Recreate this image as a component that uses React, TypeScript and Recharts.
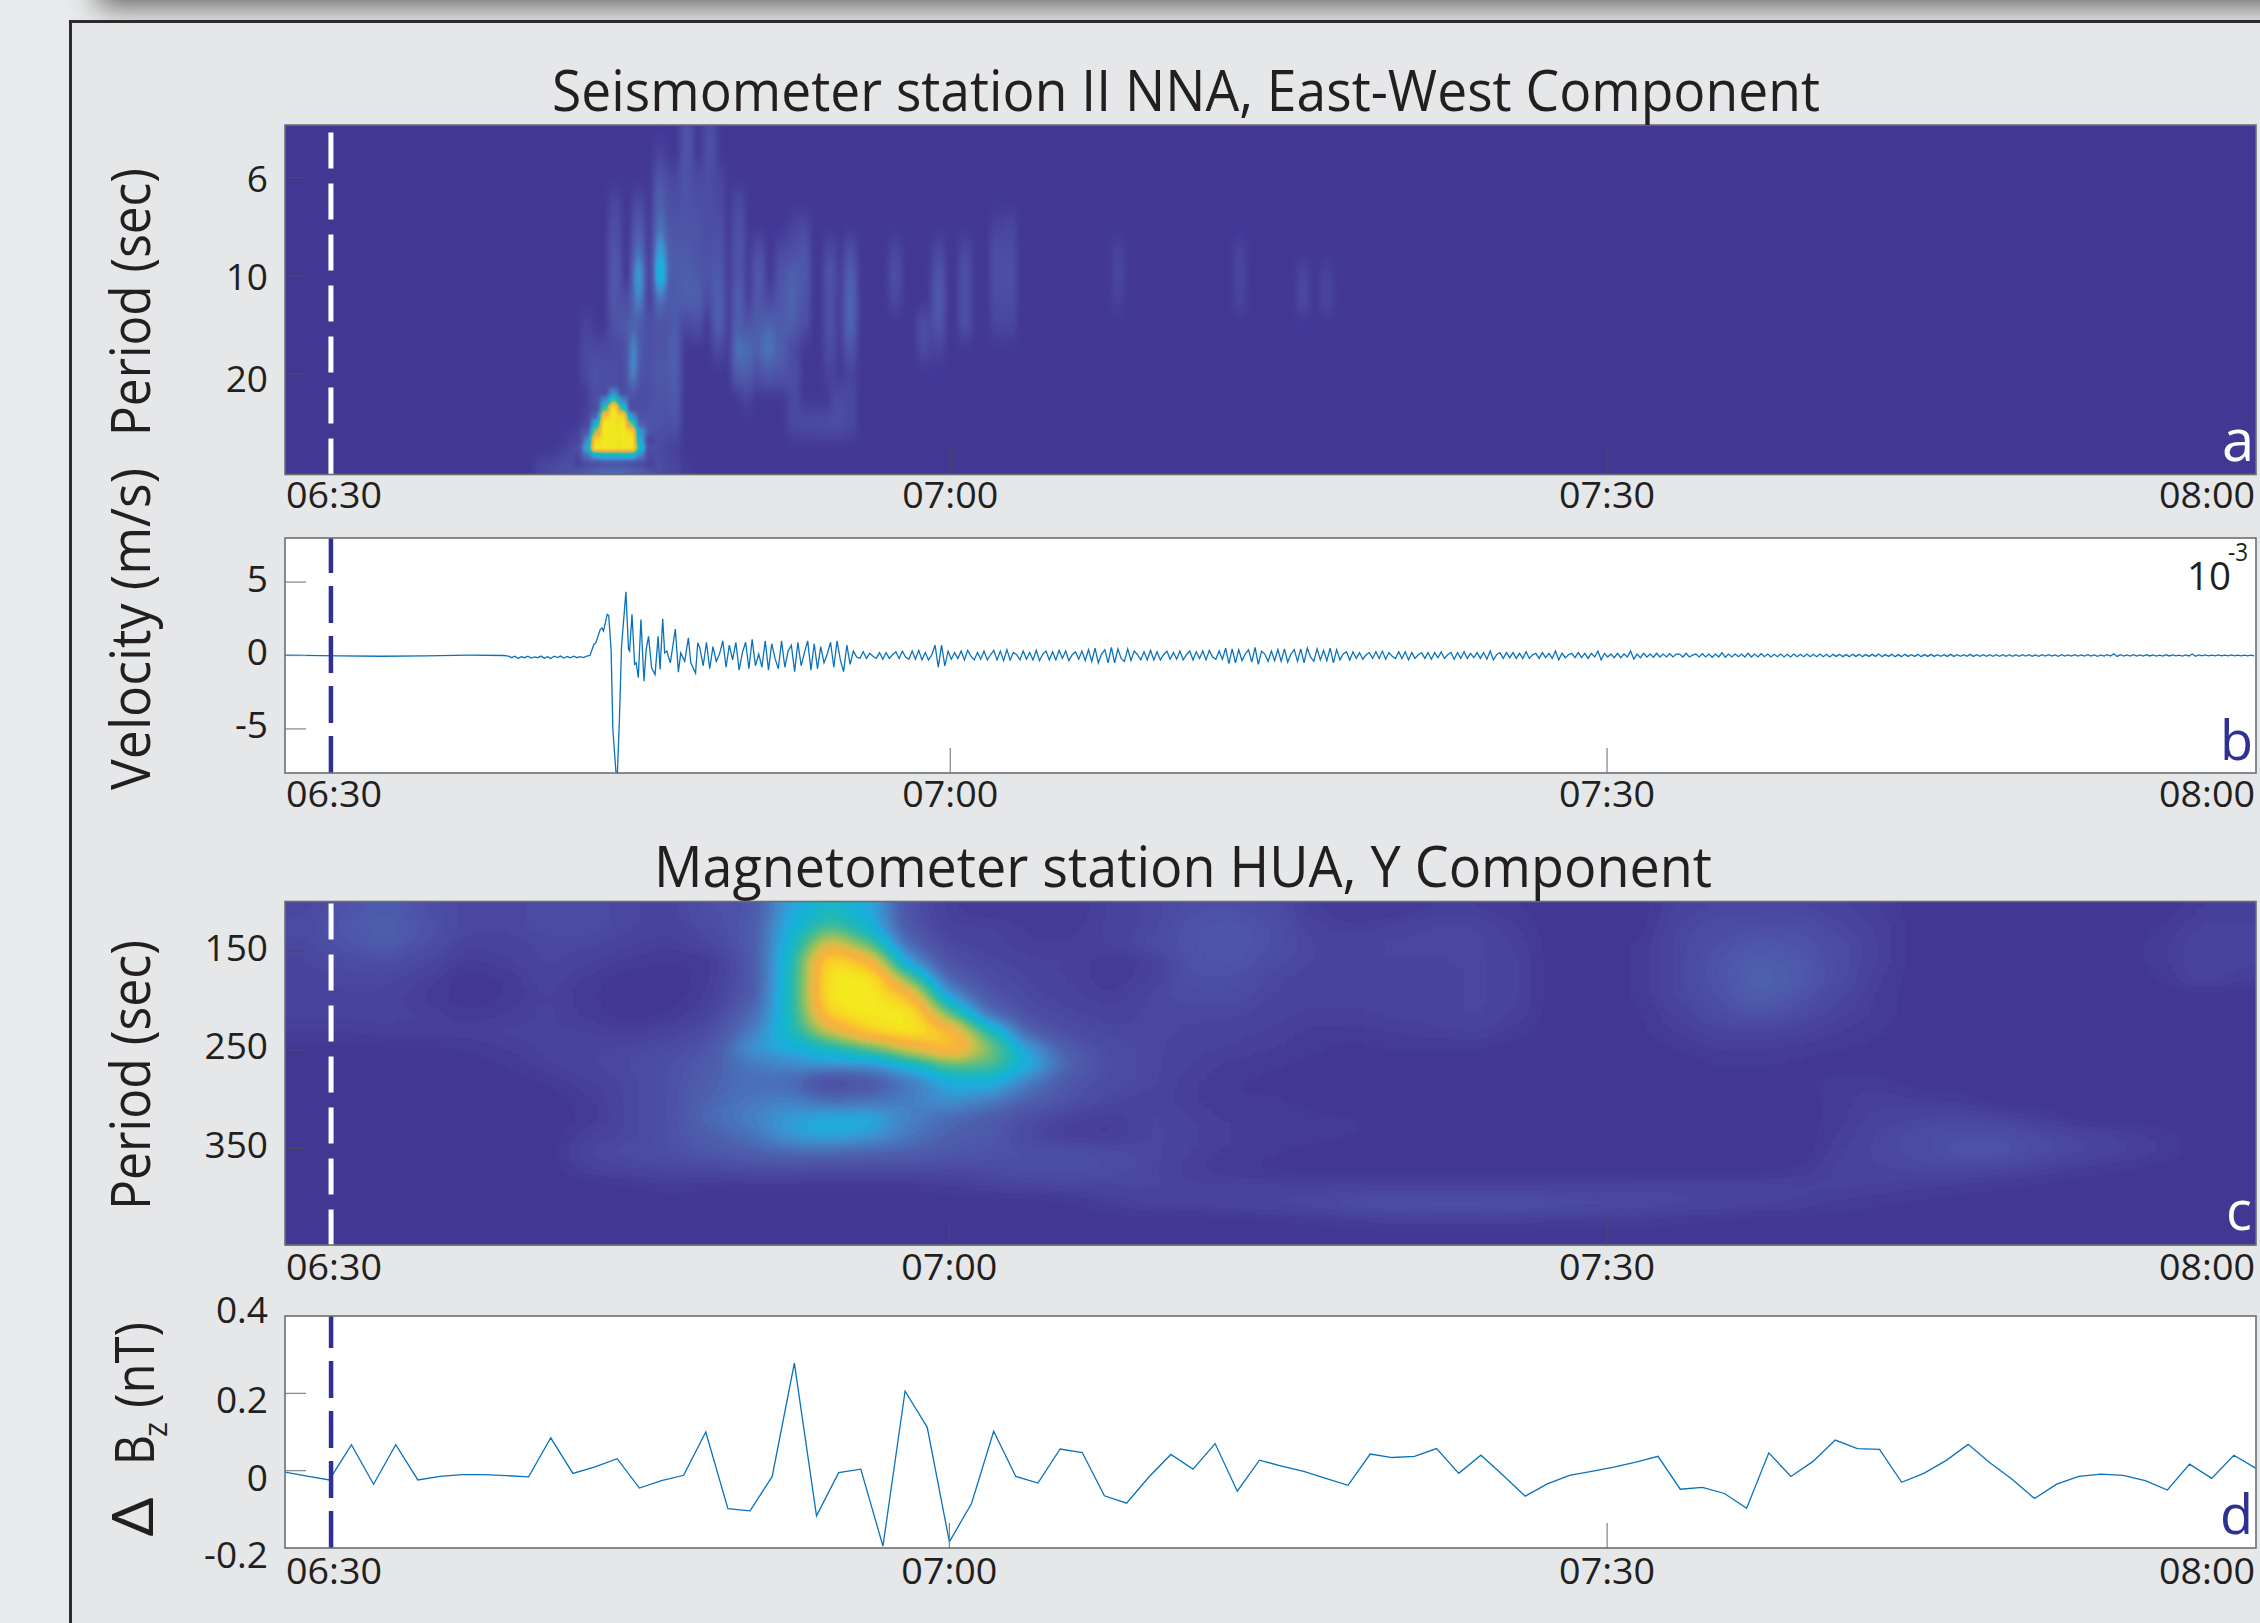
import React from 'react';
import { ComposedChart, ScatterChart, Scatter, Line, XAxis, YAxis, ReferenceLine } from 'recharts';

const timeLabels = ['06:30', '07:00', '07:30', '08:00'];
const seisTicks = [0, 30.1, 60.27, 90.08];
const magTicks = [0, 30, 59.7, 89];
const seisDomain = [-0.46, 90.08];
const magDomain = [0, 89];
const seisOnset = 1.65;
const magOnset = 2.08;

const periodTicksA = [0, 1, 2];
const periodLabelsA = ['6', '10', '20'];
const periodTicksC = [150, 250, 350];
const velocityTicks = [-5, 0, 5];
const bzTicks = [-0.2, 0, 0.2, 0.4];

// Panel a: spectrogram power per streak (minutes after 06:30), rows run along the period axis
const aRowStart = -0.5;
const aRowStep = 0.25;
const aColumnMinutes = [11.3, 11.7, 12.2, 12.6, 12.99, 13.4, 13.86, 14.28, 14.69, 15.1, 15.52, 15.78, 15.93, 16.34, 16.77, 17.41, 18.0, 18.46, 19.07, 19.45, 20.37, 20.75, 21.29, 21.75, 22.36, 22.9, 23.36, 23.97, 24.58, 24.97, 25.5, 27.57, 28.87, 29.56, 30.78, 32.24, 32.85, 37.8, 43.4, 46.3, 47.4];
const aColumnPower = [
  [0,0,0,0,0,0,0,0,0,0,0,0,0,0,5],
  [0,0,0,0,0,0,0,0,0,0,0,0,0,0,7],
  [0,0,0,0,0,0,0,0,0,0,0,0,0,1,9],
  [0,0,0,0,0,0,0,0,0,0,0,0,0,3,10],
  [0,0,0,0,0,0,0,0,0,0,0,0,0,6,12],
  [0,0,0,0,0,0,0,0,4,6,6,0,5,10,12],
  [0,0,0,0,0,0,0,0,0,6,10,8,6,12,16],
  [0,0,0,0,0,0,0,0,0,6,8,6,6,12,18],
  [0,0,0,5,8,10,12,12,8,6,8,8,6,12,18],
  [0,0,0,0,0,0,0,8,12,6,6,6,8,12,18],
  [0,0,0,0,0,0,0,0,12,14,16,8,8,12,16],
  [0,0,0,6,12,18,28,22,18,38,38,8,8,12,16],
  [0,0,0,0,0,0,0,0,12,12,10,6,10,12,14],
  [0,0,0,0,0,0,0,0,8,8,8,8,10,10,10],
  [0,4,10,14,18,28,36,18,10,10,12,10,10,6,8],
  [0,0,5,8,10,12,12,12,12,14,14,12,10,3,6],
  [10,10,10,10,10,12,14,14,5,0,0,0,0,0,2],
  [0,0,6,8,10,10,12,14,8,0,0,0,0,0,0],
  [8,8,8,8,8,8,10,6,0,0,0,0,0,0,0],
  [0,0,5,6,8,10,12,14,14,6,0,0,0,0,0],
  [0,0,0,6,8,10,10,14,14,20,12,0,0,0,0],
  [0,0,0,0,0,0,0,0,10,18,14,4,0,0,0],
  [0,0,0,0,0,8,12,12,12,14,8,0,0,0,0],
  [0,0,0,0,0,0,0,6,16,20,12,0,0,0,0],
  [0,0,0,0,0,6,10,12,12,14,10,0,0,0,0],
  [0,0,0,0,4,8,14,16,14,6,8,6,6,0,0],
  [0,0,0,0,6,10,12,10,8,0,0,0,7,0,0],
  [0,0,0,0,0,0,0,0,0,0,0,0,8,0,0],
  [0,0,0,0,0,6,10,8,8,7,4,0,8,0,0],
  [0,0,0,0,0,0,0,0,0,0,0,7,8,0,0],
  [0,0,0,0,0,8,14,16,16,10,4,6,6,0,0],
  [0,0,0,0,0,5,8,5,0,0,0,0,0,0,0],
  [0,0,0,0,0,0,0,0,8,6,0,0,0,0,0],
  [0,0,0,0,0,6,10,12,10,4,0,0,0,0,0],
  [0,0,0,0,0,6,8,8,8,0,0,0,0,0,0],
  [0,0,0,0,4,8,8,7,5,0,0,0,0,0,0],
  [0,0,0,0,5,7,8,7,5,0,0,0,0,0,0],
  [0,0,0,0,0,4,5,3,0,0,0,0,0,0,0],
  [0,0,0,0,0,4,5,4,0,0,0,0,0,0,0],
  [0,0,0,0,0,0,5,6,0,0,0,0,0,0,0],
  [0,0,0,0,0,0,4,5,0,0,0,0,0,0,0],
];
const aStreakGain = 1.4;

// Panel a: the strong peak, on a finer grid
const aPeakMinutes = [12.99, 13.4, 13.82, 14.23, 14.64, 15.06, 15.47, 15.88, 16.3];
const aPeakRowStart = 2.183;
const aPeakRowStep = 0.0814;
const aPeakPower = [
  [0,0,0,0,30,0,0,0,0],
  [0,0,0,30,60,30,0,0,0],
  [0,0,0,55,100,55,10,0,0],
  [0,0,20,90,100,95,35,0,0],
  [0,0,45,100,100,100,65,20,0],
  [0,15,70,100,100,100,95,35,0],
  [5,30,95,100,100,100,100,40,5],
  [10,40,100,100,100,100,100,50,10],
  [8,25,40,45,45,45,45,30,8],
  [5,10,12,14,14,14,12,10,5],
];

// Panel b: velocity
const velocityQuietMinutes = [-0.46, 2, 4, 6, 8, 9.6];
const velocityQuiet = [0.02, -0.02, -0.05, -0.02, 0.02, 0];
const velocityNoiseStart = 9.8;
const velocityNoiseStep = 0.15;
const velocityNoise = [-0.05,-0.15,-0.05,-0.2,-0.08,-0.15,-0.05,-0.18,-0.1,-0.15,-0.04,-0.18,-0.08,-0.2,-0.05,-0.14,-0.04,-0.17,-0.07,-0.16,-0.05,-0.15,-0.08,-0.14,-0.05];
const velocityOnsetMinutes = [13.55,13.73,13.82,14.02,14.1,14.17,14.34,14.41,14.52,14.6,14.74,14.81,14.9,15.0,15.2,15.32,15.37,15.48,15.6,15.67,15.77,15.89,16.03,16.13,16.24,16.38,16.54,16.68,16.77,16.89,16.98,17.08,17.24,17.47,17.61,17.72,17.9,18.07,18.18,18.4,18.5];
const velocityOnset = [0,0.75,0.87,1.77,1.88,1.66,2.8,2.72,0.4,-5,-7.9,-8,-4.4,0.63,4.33,0.4,0.3,2.8,-0.6,-0.5,-1.5,2.45,-1.75,0.4,1.3,-0.84,-1.3,1.3,-0.95,2.5,0.18,0.3,-0.5,1.8,-1.13,0.18,-0.4,1.2,-0.5,-1.2,0.86];
const velocityCodaStart = 18.6;
const velocityCodaStep = 0.15;
const velocityCoda = [
  .5,-.7,.9,-.9,.6,-.4,.1,1,-.8,.7,-.3,.9,-1,.2,.9,-.9,1.1,-.7,.1,-.8,
  1,-1,.8,-.2,-.9,1,-.8,.3,.7,-1.1,.9,-.7,.2,1,-1,.8,-.9,.6,-.5,.1,
  .9,-.8,1,-.3,-1.1,.7,-.6,.3,-.1,-.2,.25,-.2,.15,-.05,-.2,.2,-.25,.2,-.2,.05,
  .25,-.2,.3,-.1,-.25,.3,-.25,.35,-.3,.2,-.3,.05,.7,-.8,.7,-.7,.3,-.25,.2,-.2,
  .3,-.3,.35,-.05,-.3,.2,-.25,.3,-.3,.05,.35,-.3,.3,-.35,.4,-.3,.2,.05,-.3,.3,
  -.25,.2,-.3,.35,-.35,.1,.3,-.3,.25,-.3,.35,-.2,.3,-.35,.05,.25,-.25,.3,-.35,.4,
  -.4,.5,-.5,.1,.4,-.5,.55,-.5,.45,-.2,-.4,.45,-.35,.3,.05,-.3,.25,-.3,.35,-.3,
  .25,-.3,.05,.3,-.25,.2,-.25,.3,-.3,.05,.3,-.3,.25,-.2,.3,-.3,.35,-.1,-.25,.3,
  -.25,.5,-.55,.45,-.5,.4,-.35,.1,.4,-.45,.55,-.6,.3,.1,-.4,.3,-.35,.4,-.4,.45,
  -.45,.1,.4,-.4,.45,-.5,.5,-.1,-.4,.45,-.3,.35,-.35,.5,-.5,.4,-.3,.1,.25,-.3,
  .25,-.2,.2,-.25,.05,.2,-.2,.25,-.2,.3,-.25,.2,-.05,-.2,.25,-.2,.25,-.3,.2,-.2,
  .05,.2,-.2,.2,-.25,.2,-.15,.25,-.2,.05,.2,-.25,.2,-.2,.25,-.2,.15,-.15,.2,-.2,
  .2,-.25,.3,-.3,.05,.2,-.2,.2,-.15,.2,-.2,.15,-.2,.25,-.2,.05,.15,-.2,.2,-.15,
  .15,-.2,.3,-.3,.15,-.15,.05,.15,-.15,.2,-.15,.15,-.2,.15,-.1,.3,-.3,.15,-.1,.1,
  -.15,.15,-.15,.1,-.1,.3,-.25,.1,-.15,.15,-.1,.1,-.12,.15,-.1,.1,-.1,.12,-.1,.1,
  .1,-.1,.15,-.1,.02,.1,-.1,.12,-.1,.1,-.12,.1,-.1,.2,-.12,.1,-.1,.1,-.08,.1,
  -.1,.15,-.1,.1,-.1,.12,-.08,.1,-.1,.08,-.08,.1,-.1,.08,-.1,.1,-.08,.08,-.08,.1,
  -.08,.08,-.08,.1,-.08,.08,-.1,.08,-.06,.08,-.08,.06,-.08,.08,-.06,.08,-.08,.06,-.06,.08,
  -.06,.1,-.08,.06,-.06,.08,-.08,.06,-.08,.08,-.06,.06,-.06,.08,-.08,.06,-.06,.08,-.06,.06,
  -.06,.06,-.06,.08,-.06,.05,-.06,.06,-.05,.08,-.06,.05,-.05,.06,-.06,.05,-.05,.06,-.05,.05,
  -.06,.05,-.05,.06,-.05,.06,-.04,.05,-.05,.04,-.05,.06,-.04,.05,-.04,.04,-.05,.05,-.04,.04,
  -.04,.05,-.04,.04,-.04,.05,-.04,.04,-.05,.04,-.04,.05,-.04,.12,-.06,.05,-.04,.04,-.04,.05,
  -.04,.04,-.04,.05,-.03,.04,-.04,.03,-.04,.05,-.03,.04,-.03,.03,-.04,.04,-.03,.1,-.05,.04,
  -.03,.04,-.03,.03,-.03,.04,-.03,.03,-.03,.04,-.03,.03,-.03,.03,-.03,.03,-.03,
];

// Panel c: spectrogram power on a regular time/period grid (percent of colour range)
const cColumnStart = 0.93;
const cColumnStep = 1.822;
const cPeriodStart = 108.1;
const cPeriodStep = 17.56;
const cPower = [
  [8,14,18,12,8,8,10,10,8,6,12,14,40,50,42,12,4,2,2,2,6,8,12,12,10,4,2,2,4,4,2,0,0,0,6,8,8,8,6,4,0,0,0,0,0,0,0,4,4],
  [10,16,20,14,8,8,10,10,8,6,10,16,44,60,46,14,5,6,3,3,6,8,14,16,12,6,4,6,8,8,4,0,0,0,8,10,12,12,8,5,0,0,0,0,0,0,2,6,6],
  [8,14,18,12,6,6,8,8,6,4,8,16,46,80,62,22,8,6,4,4,6,10,14,16,12,7,7,8,8,8,5,0,0,2,8,12,16,14,10,5,0,0,0,0,0,0,3,7,7],
  [7,10,12,8,3,5,8,6,3,2,2,14,50,98,86,36,12,8,6,5,2,4,14,15,10,7,7,7,7,8,6,0,0,2,8,14,20,16,10,5,0,0,0,0,0,0,3,7,6],
  [6,8,8,5,0,2,7,3,0,0,3,14,50,100,100,64,20,10,7,5,2,6,12,12,8,6,6,6,6,8,6,0,0,2,8,14,22,18,10,4,0,0,0,0,0,0,2,7,4],
  [6,7,7,3,0,2,6,2,0,0,4,16,50,100,100,88,36,14,8,6,4,8,10,10,7,6,6,6,6,8,6,0,0,2,8,12,20,14,8,3],
  [6,6,6,5,2,4,6,3,0,2,6,22,50,94,100,100,62,24,10,8,6,8,8,8,6,5,5,6,6,8,5,0,0,1,6,10,14,10,6,3],
  [4,4,5,5,5,6,6,5,4,6,10,28,50,76,94,100,88,52,18,10,8,8,7,6,5,3,3,4,5,6,3,0,0,1,4,7,8,6,4,2],
  [1,1,1,1,2,4,6,7,8,10,14,36,42,50,62,78,92,66,36,16,10,8,6,5,4,2,1,2,2,2,0,0,0,0,2,4,4,3,2,1],
  [0,0,0,0,0,2,5,7,9,12,18,28,32,36,34,46,62,60,42,20,10,8,5,3,2,1,0,0,0,0,0,0,0,0,0,2,2,1,0,0],
  [0,0,0,0,0,0,2,5,8,12,20,26,24,6,14,28,42,44,28,14,10,8,4,2,1,0,0,0,0,0,0,0,0,0,0,0,0,1,3,3],
  [0,0,0,0,0,0,0,3,8,12,22,28,30,24,26,30,36,30,20,13,8,6,4,2,2,1,0,0,0,0,0,0,0,0,0,0,0,0,3,5,4,3],
  [0,0,0,0,0,0,0,2,8,12,24,30,38,42,42,30,24,18,10,6,4,8,5,3,3,2,2,0,0,0,0,0,0,0,0,0,0,0,3,6,7,8,6,4],
  [0,0,0,0,0,0,0,5,8,12,20,26,38,42,38,28,20,16,8,3,3,8,6,4,4,3,2,0,0,0,0,0,0,0,0,0,0,0,4,8,10,12,12,9,7,5,3],
  [0,0,0,0,0,0,0,8,10,12,16,20,24,24,22,20,16,14,12,12,10,8,5,3,2,0,0,0,0,0,0,0,0,0,0,0,0,0,5,8,10,14,14,10,8,6,4],
  [0,0,0,0,0,0,0,5,7,8,8,10,10,9,9,9,9,10,12,12,10,8,4,2,1,0,0,0,0,0,0,0,0,0,0,0,0,2,6,7,8,8,7,5,3,2],
  [0,0,0,0,0,0,0,0,1,3,2,2,2,2,2,2,3,5,6,7,7,8,6,6,6,6,6,6,6,6,6,6,6,7,7,7,7,6,6,5,4,3,2,1],
  [0,0,0,0,0,0,0,0,0,0,0,0,0,0,0,0,0,0,0,1,4,6,6,7,8,9,11,12,13,13,12,11,10,9,8,7,6,5,3,2,1],
  [0,0,0,0,0,0,0,0,0,0,0,0,0,0,0,0,0,0,0,0,0,0,0,0,1,2,3,4,4,4,4,3,3,3,2,1],
  [],
];

// Panel d: field change, one sample per step
const bzStep = 1;
const bzValues = [-0.004,-0.014,-0.024,0.067,-0.035,0.067,-0.024,-0.015,-0.01,-0.01,-0.013,-0.016,0.085,-0.007,0.01,0.031,-0.045,-0.026,-0.012,0.1,-0.098,-0.104,-0.015,0.278,-0.117,-0.005,0.004,-0.195,0.206,0.112,-0.184,-0.085,0.102,-0.015,-0.032,0.056,0.047,-0.065,-0.084,-0.017,0.042,0.004,0.07,-0.053,0.027,0.012,-0.002,-0.02,-0.038,0.043,0.034,0.037,0.057,-0.007,0.04,-0.012,-0.066,-0.034,-0.012,-0.002,0.009,0.022,0.037,-0.048,-0.043,-0.059,-0.097,0.046,-0.015,0.024,0.079,0.057,0.055,-0.03,-0.007,0.026,0.068,0.02,-0.023,-0.072,-0.035,-0.015,-0.009,-0.012,-0.026,-0.05,0.017,-0.02,0.04,0.006];

const colourStops = ['#423895','#48439c','#4c4da3','#4e57a9','#4d61af','#4a70b8','#4681c4','#3b93d0','#25a7db','#15b2d6','#1bb7c2','#2fbaa8','#4fbd8d','#78bf70','#a6c158','#cdbf4a','#eeb644','#f8b23c','#fac52f','#f7d924','#f4e81f'];

const channel = (offset: number) => colourStops.map((c) => parseInt(c.slice(offset, offset + 2), 16) / 255);
const smoothTable = (offset: number) => channel(offset).map((v) => v.toFixed(3)).join(' ');
const LEVELS = 56;
const bandTable = (offset: number) => {
  const vals = channel(offset);
  const out: string[] = [];
  for (let i = 0; i < LEVELS; i++) {
    const f = (i / (LEVELS - 1)) * (vals.length - 1);
    const k = Math.min(Math.floor(f), vals.length - 2);
    out.push((vals[k] + (vals[k + 1] - vals[k]) * (f - k)).toFixed(3));
  }
  return out.join(' ');
};

const aData = aColumnPower.flatMap((col, ci) =>
  col.map((v, k) => ({ t: aColumnMinutes[ci], p: aRowStart + aRowStep * k, v })).filter((d) => d.v > 0),
);
const aPeakData = aPeakPower.flatMap((row, j) =>
  row.map((v, i) => ({ t: aPeakMinutes[i], p: aPeakRowStart + aPeakRowStep * j, v })).filter((d) => d.v > 0),
);
const cData = cPower.flatMap((row, j) =>
  row.map((v, i) => ({ t: cColumnStart + cColumnStep * i, p: cPeriodStart + cPeriodStep * j, v, i, j })).filter((d) => d.v > 0),
);
const velocityData = [
  ...velocityQuietMinutes.map((t, i) => ({ t, v: velocityQuiet[i] })),
  ...velocityNoise.map((v, i) => ({ t: velocityNoiseStart + velocityNoiseStep * i, v })),
  ...velocityOnsetMinutes.map((t, i) => ({ t, v: velocityOnset[i] })),
  ...velocityCoda.map((v, i) => ({ t: velocityCodaStart + velocityCodaStep * i, v })),
];
const bzData = bzValues.map((v, i) => ({ t: i * bzStep, v }));

const FONT = '"Open Sans", sans-serif';
const INK = '#231f20';
const TICK = '#808285';
const TICK_DARK = '#4a4a62';
const BLUE = '#2e3192';
const TRACE = '#0a72bb';
const LEFT = 285;
const WIDTH = 1971;
const TOP_PAD = 45;
const ONSET_DASH = '36 15';

const xTick = (plotH: number, labelDy: number, lineColor: string) => (p: any) => {
  const i = p.index;
  const y0 = TOP_PAD + plotH;
  const x = i === 0 ? LEFT + 1 : i === 3 ? LEFT + WIDTH - 1 : p.x;
  const anchor = i === 0 ? 'start' : i === 3 ? 'end' : 'middle';
  return (
    <g>
      {i === 1 || i === 2 ? <line x1={p.x} x2={p.x} y1={y0} y2={y0 - 25} stroke={lineColor} strokeWidth={1.2} /> : null}
      <text x={x} y={y0 + labelDy} textAnchor={anchor} fontFamily={FONT} fontSize={37} fill={INK} textLength={96} lengthAdjust="spacingAndGlyphs">{timeLabels[i]}</text>
    </g>
  );
};

const yTick = (label: (v: number) => string, dy: (v: number) => number, showLine: (v: number) => boolean, lineColor: string) => (p: any) => {
  const v = p.payload.value;
  return (
    <g>
      {showLine(v) ? <line x1={LEFT} x2={LEFT + 21} y1={p.y} y2={p.y} stroke={lineColor} strokeWidth={1.2} /> : null}
      <text x={268} y={p.y + dy(v) + 13.5} textAnchor="end" fontFamily={FONT} fontSize={37} fill={INK}>{label(v)}</text>
    </g>
  );
};

const aCell = (p: any) => {
  if (p.cx == null) return <g />;
  const g = Math.min(255, Math.round((p.payload.v * aStreakGain / 100) * 255));
  return <rect x={p.cx - 6.5} y={p.cy - 12.6} width={13} height={25.2} fill={`rgb(${g},${g},${g})`} />;
};

const aPeakCell = (p: any) => {
  if (p.cx == null) return <g />;
  const g = Math.round((p.payload.v / 100) * 255);
  return <rect x={p.cx - 4.6} y={p.cy - 4.1} width={9.2} height={8.2} fill={`rgb(${g},${g},${g})`} />;
};

const cCell = (p: any) => {
  if (p.cx == null) return <g />;
  const { v, i, j } = p.payload;
  const g = Math.round((v / 100) * 255);
  const l = i === 0 ? 70 : 0;
  const r = i === 48 ? 70 : 0;
  const t = j === 0 ? 70 : 0;
  return <rect x={p.cx - 20.4 - l} y={p.cy - 8.9 - t} width={40.8 + l + r} height={17.8 + t} fill={`rgb(${g},${g},${g})`} />;
};

const heatFilter = (id: string, h: number, blur: string, tableType: 'table' | 'discrete', makeTable: (o: number) => string, opaque = true) => (
  <filter id={id} filterUnits="userSpaceOnUse" x={LEFT - 100} y={TOP_PAD - 100} width={WIDTH + 200} height={h + 200} colorInterpolationFilters="sRGB">
    <feFlood floodColor="#000000" floodOpacity={opaque ? 1 : 0} result="f" />
    <feMerge result="m">
      <feMergeNode in="f" />
      <feMergeNode in="SourceGraphic" />
    </feMerge>
    <feGaussianBlur in="m" stdDeviation={blur} result="b" />
    <feComponentTransfer in="b">
      <feFuncR type={tableType} tableValues={makeTable(1)} />
      <feFuncG type={tableType} tableValues={makeTable(3)} />
      <feFuncB type={tableType} tableValues={makeTable(5)} />
    </feComponentTransfer>
  </filter>
);

const PANELS = {
  a: { y: 125, h: 349.5 },
  b: { y: 538, h: 235 },
  c: { y: 901.5, h: 343.5 },
  d: { y: 1316, h: 232 },
};

const chartStyle = (y: number): React.CSSProperties => ({ position: 'absolute', left: 0, top: y - TOP_PAD });
const margins = { top: TOP_PAD, left: LEFT - 60, right: 2260 - LEFT - WIDTH, bottom: 20 };
const axisSeed = [{ t: 0, p: 0 }];
const chartH = (h: number) => h + TOP_PAD + 70;

function OnsetLayer({ p, domainX, domainY, reversed, x }: any) {
  return (
    <ComposedChart width={2260} height={chartH(p.h)} margin={margins} data={axisSeed} style={chartStyle(p.y)}>
      <XAxis type="number" dataKey="t" domain={domainX} height={50} axisLine={false} tickLine={false} tick={false} allowDataOverflow />
      <YAxis type="number" domain={domainY} reversed={reversed} width={60} axisLine={false} tickLine={false} tick={false} allowDataOverflow />
      <ReferenceLine x={x} stroke="#fff" strokeWidth={5} strokeDasharray={ONSET_DASH} />
    </ComposedChart>
  );
}

function Frame({ p }: { p: { y: number; h: number } }) {
  return <rect x={LEFT} y={p.y} width={WIDTH} height={p.h} fill="none" stroke="#6d6e71" strokeWidth={1.6} />;
}

function Rot({ x, y, size, len, children, fill = INK }: any) {
  return (
    <text transform={`rotate(-90 ${x} ${y})`} x={x} y={y} fontFamily={FONT} fontSize={size} fill={fill} textLength={len} lengthAdjust="spacingAndGlyphs">{children}</text>
  );
}

export default function App() {
  return (
    <div style={{ position: 'absolute', left: 0, top: 0, width: 2260, height: 1623, overflow: 'hidden', background: '#e9eaeb' }}>
      <style>{`
        .heat-a { filter: url(#parula-a); clip-path: url(#clip-a); }
        .heat-a-peak { filter: url(#parula-peak); clip-path: url(#clip-a); }
        .heat-c { filter: url(#parula-c); clip-path: url(#clip-c); }
      `}</style>
      <div style={{ position: 'absolute', left: 104, top: -40, width: 2300, height: 40, background: '#666', boxShadow: '0 0 30px 6px #5c5c5c' }} />
      <div style={{ position: 'absolute', left: 69, top: 20, width: 2300, height: 1700, background: '#e6e7e8', border: '3px solid #2b2b2d', boxSizing: 'border-box' }} />
      <div style={{ position: 'absolute', left: LEFT, top: PANELS.b.y, width: WIDTH, height: PANELS.b.h, background: '#fff' }} />
      <div style={{ position: 'absolute', left: LEFT, top: PANELS.d.y, width: WIDTH, height: PANELS.d.h, background: '#fff' }} />

      <svg width={0} height={0} style={{ position: 'absolute' }}>
        <defs>
          {heatFilter('parula-a', PANELS.a.h, '3.4 10', 'table', smoothTable)}
          {heatFilter('parula-peak', PANELS.a.h, '2.2 2.2', 'table', smoothTable, false)}
          {heatFilter('parula-c', PANELS.c.h, '15 7.5', 'discrete', bandTable)}
          <clipPath id="clip-a"><rect x={LEFT} y={TOP_PAD} width={WIDTH} height={PANELS.a.h} /></clipPath>
          <clipPath id="clip-c"><rect x={LEFT} y={TOP_PAD} width={WIDTH} height={PANELS.c.h} /></clipPath>
        </defs>
      </svg>

      <ScatterChart width={2260} height={chartH(PANELS.a.h)} margin={margins} style={chartStyle(PANELS.a.y)}>
        <XAxis type="number" dataKey="t" domain={seisDomain} ticks={seisTicks} interval={0} height={50} axisLine={false} tickLine={false} tick={xTick(PANELS.a.h, 33.5, TICK_DARK)} allowDataOverflow />
        <YAxis type="number" dataKey="p" reversed domain={[-0.534, 3.023]} ticks={periodTicksA} interval={0} width={60} axisLine={false} tickLine={false} allowDataOverflow
          tick={yTick((v) => periodLabelsA[v], (v) => (v === 2 ? 5 : 1), () => true, TICK_DARK)} />
        <Scatter className="heat-a" data={aData} shape={aCell} isAnimationActive={false} />
        <Scatter className="heat-a-peak" data={aPeakData} shape={aPeakCell} isAnimationActive={false} />
      </ScatterChart>
      <OnsetLayer p={PANELS.a} domainX={seisDomain} domainY={[-0.534, 3.023]} reversed x={seisOnset} />

      <ComposedChart width={2260} height={chartH(PANELS.b.h)} margin={margins} data={velocityData} style={chartStyle(PANELS.b.y)}>
        <XAxis type="number" dataKey="t" domain={seisDomain} ticks={seisTicks} interval={0} height={50} axisLine={false} tickLine={false} tick={xTick(PANELS.b.h, 33.5, TICK)} allowDataOverflow />
        <YAxis type="number" domain={[-8, 8]} ticks={velocityTicks} interval={0} width={60} axisLine={false} tickLine={false} allowDataOverflow
          tick={yTick((v) => String(v), () => -4, () => true, TICK)} />
        <Line dataKey="v" stroke={TRACE} strokeWidth={1.3} dot={false} isAnimationActive={false} />
        <ReferenceLine x={seisOnset} stroke={BLUE} strokeWidth={4.5} strokeDasharray="37 13" />
      </ComposedChart>

      <ScatterChart width={2260} height={chartH(PANELS.c.h)} margin={margins} style={chartStyle(PANELS.c.y)}>
        <XAxis type="number" dataKey="t" domain={magDomain} ticks={magTicks} interval={0} height={50} axisLine={false} tickLine={false} tick={xTick(PANELS.c.h, 34, TICK_DARK)} allowDataOverflow />
        <YAxis type="number" dataKey="p" reversed domain={[100, 448.5]} ticks={periodTicksC} interval={0} width={60} axisLine={false} tickLine={false} allowDataOverflow
          tick={yTick((v) => String(v), () => -4, () => true, TICK_DARK)} />
        <Scatter className="heat-c" data={cData} shape={cCell} isAnimationActive={false} />
      </ScatterChart>
      <OnsetLayer p={PANELS.c} domainX={magDomain} domainY={[100, 448.5]} reversed x={magOnset} />

      <ComposedChart width={2260} height={chartH(PANELS.d.h)} margin={margins} data={bzData} style={chartStyle(PANELS.d.y)}>
        <XAxis type="number" dataKey="t" domain={magDomain} ticks={magTicks} interval={0} height={50} axisLine={false} tickLine={false} tick={xTick(PANELS.d.h, 35.5, TICK)} allowDataOverflow />
        <YAxis type="number" domain={[-0.2, 0.4]} ticks={bzTicks} interval={0} width={60} axisLine={false} tickLine={false} allowDataOverflow
          tick={yTick((v) => String(v), (v) => (v === 0.4 ? -7 : 6.5), (v) => v === 0 || v === 0.2, TICK)} />
        <Line dataKey="v" stroke={TRACE} strokeWidth={1.3} dot={false} isAnimationActive={false} />
        <ReferenceLine x={magOnset} stroke={BLUE} strokeWidth={4.5} strokeDasharray="37 13" />
      </ComposedChart>

      <svg width={2260} height={1623} style={{ position: 'absolute', left: 0, top: 0, pointerEvents: 'none' }}>
        <Frame p={PANELS.a} />
        <Frame p={PANELS.b} />
        <Frame p={PANELS.c} />
        <Frame p={PANELS.d} />
        <text x={552} y={111} fontFamily={FONT} fontSize={56} fill={INK} textLength={1268} lengthAdjust="spacingAndGlyphs">Seismometer station II NNA, East-West Component</text>
        <text x={654} y={887} fontFamily={FONT} fontSize={56} fill={INK} textLength={1058} lengthAdjust="spacingAndGlyphs">Magnetometer station HUA, Y Component</text>
        <Rot x={150} y={436} size={54} len={268}>Period (sec)</Rot>
        <Rot x={150} y={790} size={54} len={322}>Velocity (m/s)</Rot>
        <Rot x={150} y={1210} size={54} len={270}>Period (sec)</Rot>
        <Rot x={153} y={1537} size={56} len={40}>Δ</Rot>
        <Rot x={154} y={1465} size={54} len={30}>B</Rot>
        <Rot x={167} y={1437} size={32} len={15}>z</Rot>
        <Rot x={154} y={1408} size={54} len={86}>(nT)</Rot>
        <text x={2187} y={590} fontFamily={FONT} fontSize={38} fill={INK} textLength={44} lengthAdjust="spacingAndGlyphs">10</text>
        <text x={2228} y={561} fontFamily={FONT} fontSize={25} fill={INK} textLength={20} lengthAdjust="spacingAndGlyphs">-3</text>
        <text x={2222} y={461} fontFamily={FONT} fontSize={58} fill="#fff">a</text>
        <text x={2220} y={760} fontFamily={FONT} fontSize={54} fill={BLUE}>b</text>
        <text x={2226} y={1230} fontFamily={FONT} fontSize={54} fill="#fff">c</text>
        <text x={2220} y={1534} fontFamily={FONT} fontSize={54} fill={BLUE}>d</text>
      </svg>
    </div>
  );
}
